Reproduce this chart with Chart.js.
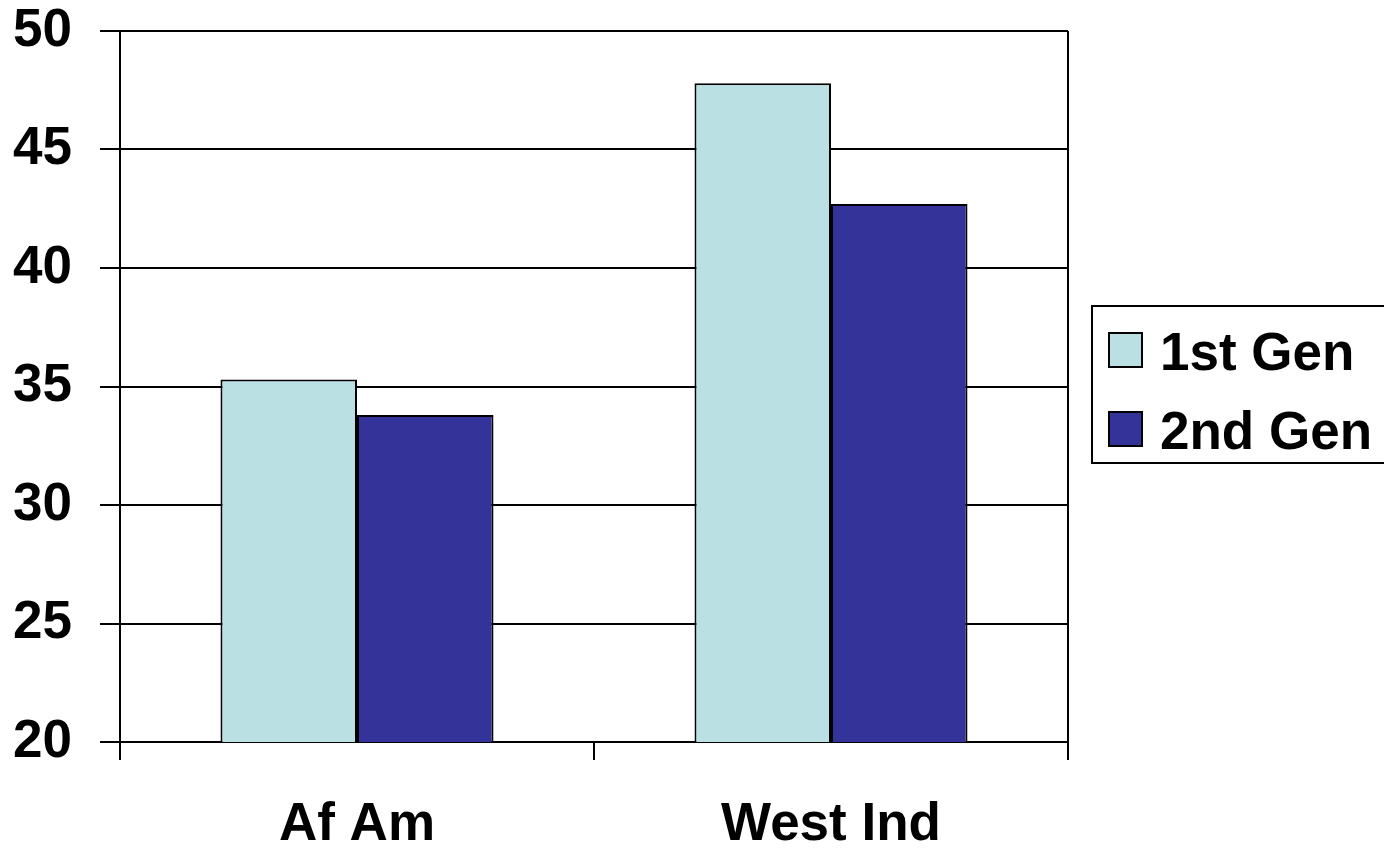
<!DOCTYPE html>
<html>
<head>
<meta charset="utf-8">
<script src="https://cdn.jsdelivr.net/npm/chart.js@4.4.1/dist/chart.umd.min.js"></script>
<style>
  body { margin: 0; background: #fff; }
  #wrap { width: 1384px; height: 848px; }
</style>
</head>
<body>
<div id="wrap"><canvas id="myChart" width="1384" height="848"></canvas></div>
<script>
// data
const categories = ["Af Am", "West Ind"];
const seriesNames = ["1st Gen", "2nd Gen"];
const firstGen = [35.3, 47.8];
const secondGen = [33.8, 42.7];
const yTicks = [20, 25, 30, 35, 40, 45, 50];

const colors = ["#BBE0E3", "#333399"];
const font = { family: "'Liberation Sans', Arial, sans-serif", size: 53, weight: "bold" };

// right border of plot + boxed legend
const frameAndLegend = {
  id: "frameAndLegend",
  afterDraw(chart) {
    const ctx = chart.ctx;
    const area = chart.chartArea;
    ctx.save();
    ctx.strokeStyle = "#000";
    ctx.lineWidth = 2;
    ctx.beginPath();
    ctx.moveTo(area.right, area.top);
    ctx.lineTo(area.right, area.bottom);
    ctx.stroke();

    // legend box
    const bx = area.right + 24;
    const by = 306;
    ctx.strokeRect(bx, by, 320, 157);
    ctx.font = "bold 53px 'Liberation Sans', Arial, sans-serif";
    ctx.textBaseline = "alphabetic";
    ctx.textAlign = "left";
    chart.data.datasets.forEach((ds, i) => {
      const sy = 333 + i * 79;
      ctx.fillStyle = ds.backgroundColor;
      ctx.fillRect(bx + 17, sy, 33, 34);
      ctx.strokeRect(bx + 17, sy, 33, 34);
      ctx.fillStyle = "#000";
      ctx.fillText(ds.label, bx + 68, sy + 37);
    });
    ctx.restore();
  }
};

const ctx = document.getElementById("myChart").getContext("2d");
const myChart = new Chart(ctx, {
  type: "bar",
  data: {
    labels: categories,
    datasets: [
      {
        label: seriesNames[0],
        data: firstGen,
        backgroundColor: colors[0],
        borderColor: "#000",
        borderWidth: 2,
      },
      {
        label: seriesNames[1],
        data: secondGen,
        backgroundColor: colors[1],
        borderColor: "#000",
        borderWidth: 2,
      },
    ],
  },
  options: {
    responsive: false,
    animation: false,
    devicePixelRatio: 1,
    layout: { padding: { top: 31, right: 316, left: 0, bottom: 0 } },
    datasets: { bar: { categoryPercentage: 0.576, barPercentage: 1 } },
    plugins: { legend: { display: false }, tooltip: { enabled: false } },
    scales: {
      x: {
        afterFit: (scale) => {
          scale.height = 106;
          scale.paddingLeft = 0;
          scale.paddingRight = 0;
        },
        grid: { drawOnChartArea: false, color: "#000", lineWidth: 2, tickLength: 18, offset: true },
        border: { display: true, color: "#000", width: 2 },
        ticks: { color: "#000", font: font, padding: 34 },
      },
      y: {
        min: 20,
        max: 50,
        afterFit: (scale) => {
          scale.width = 120;
          scale.paddingTop = 0;
          scale.paddingBottom = 0;
        },
        afterBuildTicks: (scale) => { scale.ticks = yTicks.map((v) => ({ value: v })); },
        grid: { color: "#000", lineWidth: 2, tickLength: 20 },
        border: { display: true, color: "#000", width: 2 },
        ticks: { color: "#000", font: font, padding: 28 },
      },
    },
  },
  plugins: [frameAndLegend],
});
</script>
</body>
</html>
